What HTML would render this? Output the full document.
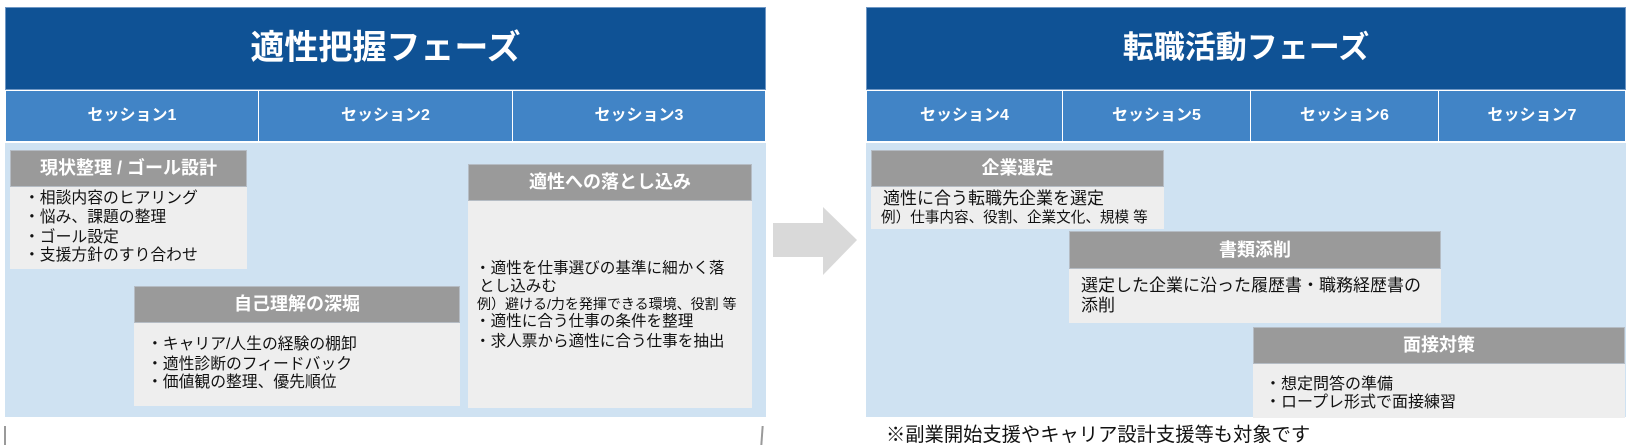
<!DOCTYPE html>
<html><head><meta charset="utf-8">
<style>
html,body{margin:0;padding:0;background:#fff;}
body{width:1638px;height:448px;position:relative;overflow:hidden;font-family:"Liberation Sans","Noto Sans CJK JP",sans-serif;}
.a{position:absolute;box-sizing:border-box;}
.hdr{background:#0f5295;border:1px solid #6f97c4;}
.ses{background:#4184c6;border:1px solid #ffffff;color:#fff;font-weight:bold;font-size:16px;text-align:center;line-height:49px;}
.lb{background:#cfe2f2;}
.gh{background:#9a9a9a;border:1px solid #b5bcc4;color:#fff;font-weight:bold;font-size:18px;text-align:center;}
.gb{background:#eeeeee;}
.t{position:absolute;white-space:nowrap;color:#111;}
.title{color:#fff;font-weight:bold;text-align:center;position:absolute;white-space:nowrap;}
</style></head><body>

<!-- LEFT PANEL -->
<div class="a hdr" style="left:5px;top:7px;width:761px;height:83px;"></div>
<div class="title" style="left:5px;width:761px;top:26px;line-height:44px;font-size:34px;">適性把握フェーズ</div>
<div class="a ses" style="left:5px;top:90px;width:254px;height:52px;">セッション1</div>
<div class="a ses" style="left:258px;top:90px;width:255px;height:52px;">セッション2</div>
<div class="a ses" style="left:512px;top:90px;width:254px;height:52px;">セッション3</div>
<div class="a lb" style="left:5px;top:143px;width:761px;height:274px;"></div>

<!-- Box1 -->
<div class="a gh" style="left:10px;top:150px;width:237px;height:37px;line-height:35px;">現状整理 / ゴール設計</div>
<div class="a gb" style="left:10px;top:187px;width:237px;height:82px;"></div>
<div class="t" style="left:24px;top:189px;font-size:15.8px;line-height:20px;">・相談内容のヒアリング</div>
<div class="t" style="left:24px;top:208px;font-size:15.8px;line-height:20px;">・悩み、課題の整理</div>
<div class="t" style="left:24px;top:228px;font-size:15.8px;line-height:20px;">・ゴール設定</div>
<div class="t" style="left:24px;top:246px;font-size:15.8px;line-height:20px;">・支援方針のすり合わせ</div>

<!-- Box2 -->
<div class="a gh" style="left:134px;top:286px;width:326px;height:37px;line-height:35px;">自己理解の深堀</div>
<div class="a gb" style="left:134px;top:323px;width:326px;height:83px;"></div>
<div class="t" style="left:147px;top:335px;font-size:15.8px;line-height:20px;">・キャリア/人生の経験の棚卸</div>
<div class="t" style="left:147px;top:355px;font-size:15.8px;line-height:20px;">・適性診断のフィードバック</div>
<div class="t" style="left:147px;top:373px;font-size:15.8px;line-height:20px;">・価値観の整理、優先順位</div>

<!-- Box3 -->
<div class="a gh" style="left:468px;top:164px;width:284px;height:37px;line-height:35px;">適性への落とし込み</div>
<div class="a gb" style="left:468px;top:201px;width:284px;height:207px;"></div>
<div class="t" style="left:475px;top:259px;font-size:15.6px;line-height:20px;">・適性を仕事選びの基準に細かく落</div>
<div class="t" style="left:479px;top:277px;font-size:15.6px;line-height:20px;">とし込みむ</div>
<div class="t" style="left:477px;top:295px;font-size:14px;line-height:18px;">例）避ける/力を発揮できる環境、役割 等</div>
<div class="t" style="left:475px;top:312px;font-size:15.6px;line-height:20px;">・適性に合う仕事の条件を整理</div>
<div class="t" style="left:475px;top:332px;font-size:15.6px;line-height:20px;">・求人票から適性に合う仕事を抽出</div>

<!-- Arrow -->
<svg class="a" style="left:770px;top:204px;" width="92" height="74">
<polygon points="3,19 53,19 53,3 87,36 53,71 53,53 3,53" fill="#d9d9d9"/>
</svg>

<!-- RIGHT PANEL -->
<div class="a hdr" style="left:866px;top:7px;width:760px;height:83px;"></div>
<div class="title" style="left:866px;width:760px;top:27px;line-height:42px;font-size:31px;">転職活動フェーズ</div>
<div class="a ses" style="left:866px;top:90px;width:197px;height:52px;">セッション4</div>
<div class="a ses" style="left:1062px;top:90px;width:189px;height:52px;">セッション5</div>
<div class="a ses" style="left:1250px;top:90px;width:189px;height:52px;">セッション6</div>
<div class="a ses" style="left:1438px;top:90px;width:188px;height:52px;">セッション7</div>
<div class="a lb" style="left:866px;top:143px;width:760px;height:274px;"></div>

<!-- Box4 -->
<div class="a gh" style="left:871px;top:150px;width:293px;height:37px;line-height:35px;">企業選定</div>
<div class="a gb" style="left:871px;top:187px;width:293px;height:42px;"></div>
<div class="t" style="left:883px;top:188px;font-size:17px;line-height:22px;">適性に合う転職先企業を選定</div>
<div class="t" style="left:881px;top:209px;font-size:14.6px;line-height:19px;">例）仕事内容、役割、企業文化、規模 等</div>

<!-- Box5 -->
<div class="a gh" style="left:1069px;top:231px;width:372px;height:38px;line-height:36px;">書類添削</div>
<div class="a gb" style="left:1069px;top:269px;width:372px;height:54px;"></div>
<div class="t" style="left:1081px;top:275px;font-size:17px;line-height:22px;">選定した企業に沿った履歴書・職務経歴書の</div>
<div class="t" style="left:1081px;top:295px;font-size:17px;line-height:22px;">添削</div>

<!-- Box6 -->
<div class="a gh" style="left:1253px;top:327px;width:372px;height:37px;line-height:35px;">面接対策</div>
<div class="a gb" style="left:1253px;top:364px;width:372px;height:54px;"></div>
<div class="t" style="left:1265px;top:374px;font-size:16px;line-height:22px;">・想定問答の準備</div>
<div class="t" style="left:1265px;top:392px;font-size:16px;line-height:22px;">・ロープレ形式で面接練習</div>

<!-- Note -->
<div class="t" style="left:886px;top:424px;font-size:19.3px;line-height:24px;">※副業開始支援やキャリア設計支援等も対象です</div>

<!-- ticks -->
<div class="a" style="left:4px;top:426px;width:1.5px;height:19px;background:#9a9a9a;"></div>
<div class="a" style="left:761px;top:426px;width:1.5px;height:19px;background:#9a9a9a;transform:skewX(-4deg);"></div>

</body></html>
